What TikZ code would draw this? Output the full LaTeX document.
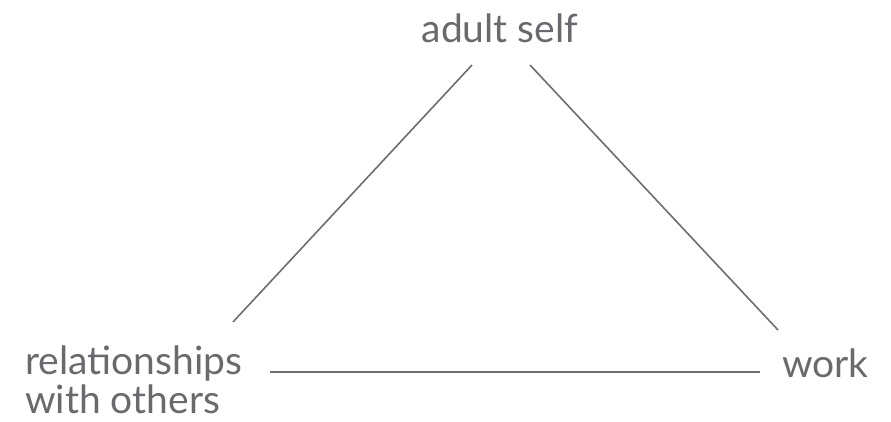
\documentclass[tikz,border=0pt]{standalone}
\usepackage{fontspec}
\setmainfont{Lato}
\usepackage{xcolor}
\usetikzlibrary{positioning}
\definecolor{inkGrey}{RGB}{105,105,110}
\definecolor{lineGrey}{RGB}{110,110,112}

\begin{document}
\begin{tikzpicture}[
			x=1pt, y=-1pt,
			corner/.style={
				inkGrey,
				font=\fontsize{39}{41}\selectfont,
				inner sep=0pt
			},
			side/.style={
				lineGrey,
				line width=1.6pt
			}
			]
			
			% Frame
			\useasboundingbox (0,0) rectangle (891,422);
			
			% Corner labels
			\node[corner, anchor=base] (self) at (500,43) {adult self};
			\node[corner, anchor=base west] (rel) at (25,374) {relationships};
			\node[corner, anchor=base west] (oth) at (25,413) {with others};
			\node[corner, anchor=base west] (work) at (782,377) {work};
			
			% Line ends
			\coordinate (sL) at (472,65);
			\coordinate (rT) at (233,322);
			\coordinate (sR) at (530,65);
			\coordinate (wT) at (778,330);
			\coordinate (rE) at (270,372);
			\coordinate (wE) at (760,372);
			
			% Sides of the triangle
			\draw[side] (sL) -- (rT);
			\draw[side] (sR) -- (wT);
			\draw[side] (rE) -- (wE);
			
		\end{tikzpicture}
\end{document}
